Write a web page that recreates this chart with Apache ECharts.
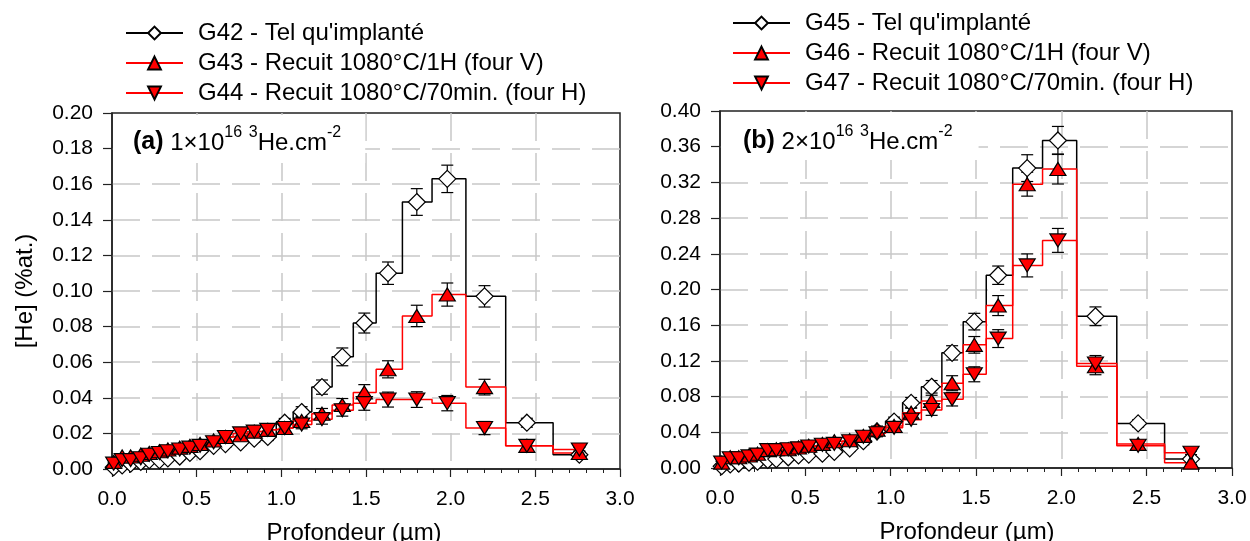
<!DOCTYPE html>
<html>
<head>
<meta charset="utf-8">
<script src="https://cdn.jsdelivr.net/npm/echarts@6/dist/echarts.min.js"></script>
<style>
html,body{margin:0;padding:0;background:#fff;}
#chart{width:1250px;height:541px;}
</style>
</head>
<body>
<div id="chart"></div>
<script>
// Depth (µm) of each measurement point (same for both panels)
const depth = [0.01,0.06,0.11,0.17,0.22,0.28,0.33,0.40,0.46,0.52,0.60,0.67,0.76,0.84,0.92,1.02,1.12,1.24,1.36,1.49,1.63,1.80,1.98,2.20,2.45,2.76];

// Panel (a) 1e16 3He/cm2
const g42 = [0.001,0.002,0.003,0.004,0.005,0.005,0.006,0.007,0.009,0.010,0.013,0.014,0.015,0.017,0.018,0.026,0.032,0.046,0.063,0.082,0.110,0.150,0.163,0.097,0.026,0.008];
const g43 = [0.004,0.007,0.007,0.008,0.009,0.010,0.011,0.012,0.013,0.014,0.016,0.018,0.019,0.021,0.022,0.023,0.027,0.031,0.036,0.043,0.056,0.086,0.098,0.046,0.013,0.009];
const g44 = [0.003,0.005,0.005,0.006,0.008,0.009,0.010,0.011,0.012,0.013,0.015,0.018,0.020,0.021,0.022,0.023,0.025,0.028,0.033,0.037,0.039,0.039,0.037,0.023,0.013,0.011];
const g42err = [0.0005,0.0008,0.001,0.001,0.001,0.0011,0.0012,0.0013,0.0014,0.0015,0.0016,0.0017,0.0018,0.0019,0.002,0.0024,0.003,0.004,0.005,0.0056,0.0063,0.0075,0.0077,0.006,0.0025,0.0012];
const g43err = [0.0008,0.001,0.001,0.001,0.0011,0.0012,0.0012,0.0013,0.0014,0.0015,0.0016,0.0017,0.0018,0.0019,0.002,0.0021,0.0024,0.003,0.0036,0.0044,0.0048,0.006,0.0065,0.0044,0.0018,0.0012];
const g44err = [0.0008,0.001,0.001,0.001,0.0011,0.0012,0.0012,0.0013,0.0014,0.0015,0.0016,0.0017,0.0018,0.0019,0.002,0.0021,0.0024,0.0028,0.0033,0.004,0.0042,0.0044,0.0043,0.0037,0.0018,0.0012];

// Panel (b) 2e16 3He/cm2
const g45 = [0.002,0.004,0.005,0.006,0.007,0.009,0.010,0.012,0.014,0.015,0.016,0.018,0.022,0.030,0.041,0.052,0.073,0.091,0.129,0.164,0.216,0.336,0.367,0.170,0.050,0.010];
const g46 = [0.006,0.012,0.012,0.014,0.016,0.020,0.021,0.021,0.023,0.025,0.027,0.030,0.031,0.036,0.043,0.047,0.062,0.075,0.095,0.138,0.182,0.318,0.335,0.114,0.027,0.006];
const g47 = [0.006,0.011,0.011,0.013,0.015,0.020,0.020,0.021,0.022,0.024,0.026,0.027,0.030,0.035,0.039,0.045,0.054,0.065,0.077,0.105,0.145,0.227,0.255,0.117,0.025,0.017];
const g45err = [0.001,0.0015,0.0015,0.0018,0.002,0.002,0.0022,0.0024,0.0026,0.0028,0.003,0.0032,0.0035,0.004,0.0045,0.005,0.006,0.007,0.008,0.0093,0.0103,0.015,0.0157,0.0105,0.004,0.002];
const g46err = [0.0015,0.0018,0.0018,0.002,0.002,0.0022,0.0024,0.0025,0.0026,0.0028,0.003,0.0032,0.0034,0.0037,0.004,0.0045,0.0055,0.0065,0.0084,0.0093,0.0112,0.0134,0.0168,0.0095,0.004,0.002];
const g47err = [0.0015,0.0018,0.0018,0.002,0.002,0.0022,0.0024,0.0025,0.0026,0.0028,0.003,0.0032,0.0034,0.0037,0.004,0.0045,0.005,0.006,0.0075,0.0084,0.01,0.0129,0.0134,0.009,0.004,0.002];

const namesA = ["G42 - Tel qu'implanté", "G43 - Recuit 1080°C/1H (four V)", "G44 - Recuit 1080°C/70min. (four H)"];
const namesB = ["G45 - Tel qu'implanté", "G46 - Recuit 1080°C/1H (four V)", "G47 - Recuit 1080°C/70min. (four H)"];

const yTicksA = {min:0, max:0.20, interval:0.02};
const yTicksB = {min:0, max:0.40, interval:0.04};
const xTicks = {min:0, max:3.0, interval:0.5};

const FONT = 'Liberation Sans, Arial, sans-serif';

const styles = [
  {symbol:'diamond', size:[17,17], rotate:0, fill:'#ffffff', line:'#000000'},
  {symbol:'triangle', size:[16,13], rotate:0, fill:'#ff0000', line:'#ff0000'},
  {symbol:'triangle', size:[16,13], rotate:180, fill:'#ff0000', line:'#ff0000'}
];

function lineSeries(name, vals, idx, st) {
  return {
    name: name, type:'line', xAxisIndex: idx, yAxisIndex: idx,
    data: depth.map((d,i)=>[d, vals[i]]),
    step: 'middle',
    symbol: st.symbol, symbolSize: st.size, symbolRotate: st.rotate,
    showAllSymbol: true,
    itemStyle: {color: st.fill, borderColor:'#000', borderWidth:1.2},
    lineStyle: {color: st.line, width: 1.5},
    emphasis: {disabled: true},
    animation: false,
    z: 3
  };
}

function errSeries(vals, errs, idx) {
  return {
    type:'custom', xAxisIndex: idx, yAxisIndex: idx, silent:true, animation:false, z:2,
    data: depth.map((d,i)=>[d, vals[i], errs[i]]),
    renderItem: function(params, api) {
      const x = api.value(0), y = api.value(1), e = api.value(2);
      const t = api.coord([x, y + e]);
      const b = api.coord([x, y - e]);
      const hw = 6;
      const st = {stroke:'#000', lineWidth:1.2};
      return {type:'group', children:[
        {type:'line', shape:{x1:t[0], y1:t[1], x2:b[0], y2:b[1]}, style:st},
        {type:'line', shape:{x1:t[0]-hw, y1:t[1], x2:t[0]+hw, y2:t[1]}, style:st},
        {type:'line', shape:{x1:b[0]-hw, y1:b[1], x2:b[0]+hw, y2:b[1]}, style:st}
      ]};
    }
  };
}

const gridLine = {show:true, showMinLine:false, showMaxLine:false, lineStyle:{color:'#c8c8c8', width:1.5, type:[28,12]}};

function xAxis(idx, shift) {
  return {
    type:'value', gridIndex: idx, min:xTicks.min, max:xTicks.max, interval:xTicks.interval,
    name: 'Profondeur (µm)', nameLocation:'middle', nameGap: 52,
    nameTextStyle:{fontSize:24, color:'#000', fontFamily:FONT, padding:[0,shift,0,0]},
    axisLine:{show:true, onZero:false, lineStyle:{color:'#222', width:1.5}},
    axisTick:{show:true, inside:false, length:8, lineStyle:{color:'#222', width:1.2}},
    minorTick:{show:true, splitNumber:5, length:4, lineStyle:{color:'#222', width:1}},
    axisLabel:{fontSize:21, color:'#000', fontFamily:FONT, margin:20, formatter: v => v.toFixed(1)},
    splitLine:gridLine
  };
}
function yAxis(idx, t, withName) {
  return {
    type:'value', gridIndex: idx, min:t.min, max:t.max, interval:t.interval,
    name: withName ? '[He] (%at.)' : '', nameLocation:'middle', nameGap: 75,
    nameTextStyle:{fontSize:24, color:'#000', fontFamily:FONT},
    axisLine:{show:true, onZero:false, lineStyle:{color:'#222', width:1.5}},
    axisTick:{show:true, inside:false, length:9, lineStyle:{color:'#222', width:1.2}},
    axisLabel:{fontSize:21, color:'#000', fontFamily:FONT, margin:19, formatter: v => v.toFixed(2)},
    splitLine:gridLine
  };
}

const rich = {
  b:{fontSize:25, fontWeight:'bold', color:'#000', fontFamily:FONT, lineHeight:30, verticalAlign:'bottom'},
  n:{fontSize:24, fontWeight:'normal', color:'#000', fontFamily:FONT, lineHeight:30, verticalAlign:'bottom'},
  s:{fontSize:16, fontWeight:'normal', color:'#000', fontFamily:FONT, lineHeight:30, verticalAlign:'top'}
};

const legendBase = {
  orient:'vertical', padding:0, itemWidth:57, itemHeight:16, itemGap:4,
  textStyle:{fontSize:24, color:'#000', fontFamily:FONT, lineHeight:26, padding:[0,0,0,10]},
  selectedMode:false
};

const option = {
  backgroundColor:'#fff',
  animation:false,
  title: [
    {text:'{b|(a)}{n| 1×10}{s|16}{n| }{s|3}{n|He.cm}{s|-2}', left:113, top:115,
     backgroundColor:'#fff', padding:[10,24,8,20], textStyle:{rich:rich, fontWeight:'normal'}},
    {text:'{b|(b)}{n| 2×10}{s|16}{n| }{s|3}{n|He.cm}{s|-2}', left:721, top:112,
     backgroundColor:'#fff', padding:[12,26,6,22], textStyle:{rich:rich, fontWeight:'normal'}}
  ],
  legend: [
    Object.assign({}, legendBase, {left:125, top:20, data:namesA}),
    Object.assign({}, legendBase, {left:732, top:10, data:namesB})
  ],
  grid: [
    {left:112, top:113, width:508, height:356, show:true, borderColor:'#222', borderWidth:1.5, backgroundColor:'transparent', outerBoundsMode:'none', containLabel:false},
    {left:720, top:111, width:512, height:357, show:true, borderColor:'#222', borderWidth:1.5, backgroundColor:'transparent', outerBoundsMode:'none', containLabel:false}
  ],
  xAxis: [xAxis(0, 24), xAxis(1, 18)],
  yAxis: [yAxis(0, yTicksA, true), yAxis(1, yTicksB, false)],
  series: [
    errSeries(g42, g42err, 0), errSeries(g43, g43err, 0), errSeries(g44, g44err, 0),
    lineSeries(namesA[0], g42, 0, styles[0]),
    lineSeries(namesA[1], g43, 0, styles[1]),
    lineSeries(namesA[2], g44, 0, styles[2]),
    errSeries(g45, g45err, 1), errSeries(g46, g46err, 1), errSeries(g47, g47err, 1),
    lineSeries(namesB[0], g45, 1, styles[0]),
    lineSeries(namesB[1], g46, 1, styles[1]),
    lineSeries(namesB[2], g47, 1, styles[2])
  ]
};

const chart = echarts.init(document.getElementById('chart'), null, {renderer:'canvas'});
chart.setOption(option);
</script>
</body>
</html>
